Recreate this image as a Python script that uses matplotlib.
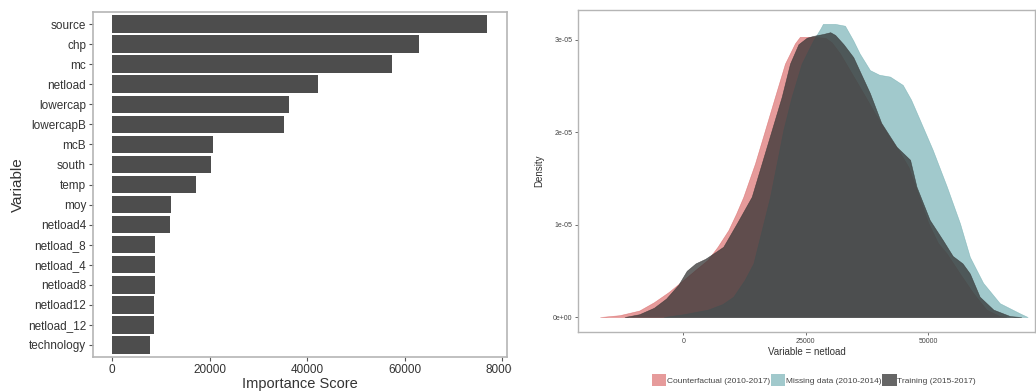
import numpy as np
import matplotlib.pyplot as plt
from matplotlib.patches import Patch
from matplotlib.transforms import Bbox, TransformedBbox

plt.rcParams['font.family'] = ['Liberation Sans', 'DejaVu Sans']

# variable importance (top to bottom)
variables = ['source', 'chp', 'mc', 'netload', 'lowercap', 'lowercapB', 'mcB',
             'south', 'temp', 'moy', 'netload4', 'netload_8', 'netload_4',
             'netload8', 'netload12', 'netload_12', 'technology']
importance = [77000, 63000, 57500, 42300, 36200, 35300, 20800, 20400, 17300,
              12100, 11800, 8800, 8750, 8750, 8700, 8700, 7800]

# netload densities (values in 1e-05)
cf_x = [-17000, -13000, -9000, -6000, -3000, 0, 2700, 5000, 7000, 9200, 10800,
        12250, 14630, 16670, 18700, 20750, 22800, 23800, 26500, 29000, 30300,
        32000, 36000, 39500, 42000, 44000, 46000, 47600, 50000, 52000, 53750,
        56470, 59180, 61900, 64600, 66000]
cf_y = [0.0, 0.02, 0.07, 0.16, 0.27, 0.40, 0.52, 0.62, 0.76, 0.94, 1.12,
        1.30, 1.66, 2.02, 2.38, 2.74, 2.96, 3.03, 3.03, 3.02, 2.97,
        2.85, 2.49, 2.17, 1.95, 1.80, 1.62, 1.38, 1.02, 0.80, 0.69,
        0.47, 0.26, 0.08, 0.01, 0.0]

md_x = [-4000, 0, 5000, 8000, 10200, 12500, 14300, 16000, 17700, 19060, 20400,
        22100, 24150, 26500, 28000, 28500, 31000, 33000, 34700,
        36000, 38100, 40000, 42200, 44800, 46500, 48300, 50900, 53800, 56500,
        58500, 61200, 64600, 68700, 70300]
md_y = [0.0, 0.03, 0.08, 0.14, 0.22, 0.40, 0.58, 0.94, 1.30, 1.66, 2.02,
        2.38, 2.74, 2.99, 3.12, 3.17, 3.17, 3.15, 2.99,
        2.85, 2.67, 2.62, 2.60, 2.51, 2.35, 2.13, 1.81, 1.41, 1.01,
        0.65, 0.37, 0.15, 0.04, 0.0]

tr_x = [-12000, -9000, -6000, -3500, -1000, 700, 2500, 4500, 6500, 8160, 11000,
        13960, 16000, 18040, 20080, 21780, 23500, 25200, 26500, 28500,
        30000, 31000, 32700, 34700, 38100, 40400, 43550, 46300, 47600, 50300,
        53000, 55000, 57000, 58500, 60500, 63300, 66700, 69000]
tr_y = [0.0, 0.03, 0.10, 0.20, 0.35, 0.50, 0.58, 0.63, 0.70, 0.76, 1.02,
        1.30, 1.66, 2.02, 2.38, 2.74, 2.95, 3.02, 3.04, 3.06,
        3.08, 3.05, 2.95, 2.81, 2.42, 2.10, 1.84, 1.70, 1.41, 1.05,
        0.83, 0.66, 0.58, 0.47, 0.22, 0.08, 0.01, 0.0]

series = [
    ('Counterfactual (2010-2017)', cf_x, cf_y, '#d65858', 0.6),
    ('Missing data (2010-2014)', md_x, md_y, '#63a6aa', 0.6),
    ('Training (2015-2017)', tr_x, tr_y, '#333333', 0.75),
]

fig = plt.figure(figsize=(10.36, 3.92), dpi=100)
W, H = 1036, 392

border = '#b5b5b5'
tickc = '#555555'

# ---- importance bars ----
ax1 = fig.add_axes([93 / W, 35 / H, 414 / W, 345 / H])
pos = np.arange(len(variables))
ax1.barh(pos, importance, height=0.87, color='#4d4d4d')
ax1.set_ylim(len(variables) - 0.4, -0.6)
ax1.set_xlim(-3900, 81000)
ax1.set_yticks(pos)
ax1.set_yticklabels(variables, fontsize=8.5, color='#333333')
ax1.set_xticks([0, 20000, 40000, 60000, 80000])
ax1.set_xticklabels(['0', '20000', '40000', '60000', '80000'], fontsize=8.5, color='#333333')
ax1.tick_params(length=3, color=tickc, width=0.8, pad=2)
ax1.set_xlabel('Importance Score', fontsize=10.5, color='#333333', labelpad=1)
ax1.set_ylabel('Variable', fontsize=11, color='#333333', labelpad=2)
for s in ax1.spines.values():
    s.set_color(border)
    s.set_linewidth(1.2)
clip = TransformedBbox(Bbox([[0, 0], [512 / W, 1]]), fig.transFigure)
for lab in ax1.get_xticklabels():
    lab.set_clip_box(clip)
    lab.set_clip_on(True)

# ---- densities ----
ax2 = fig.add_axes([578 / W, 60 / H, 457 / W, 322 / H])
handles = []
for name, xs, ys, col, a in series:
    ax2.fill_between(xs, np.array(ys) * 1e-5, 0, color=col, alpha=a, linewidth=0.4,
                     edgecolor=col)
    handles.append(Patch(facecolor=col, alpha=a, edgecolor='none', label=name))
ax2.set_xlim(-21500, 71800)
ax2.set_ylim(-0.162e-5, 3.32e-5)
ax2.set_xticks([0, 25000, 50000])
ax2.set_xticklabels(['0', '25000', '50000'], fontsize=5, color='#444444')
ax2.set_yticks([0, 1e-5, 2e-5, 3e-5])
ax2.set_yticklabels(['0e+00', '1e-05', '2e-05', '3e-05'], fontsize=5, color='#444444')
ax2.tick_params(length=2, color=tickc, width=0.6, pad=2)
ax2.set_xlabel('Variable = netload', fontsize=7, color='#333333', labelpad=2)
ax2.set_ylabel('Density', fontsize=7, color='#333333', labelpad=6)
for s in ax2.spines.values():
    s.set_color(border)
    s.set_linewidth(1.0)

fig.legend(handles=handles, loc='center', bbox_to_anchor=(814 / W, 12 / H), ncol=3,
           frameon=False, fontsize=6, handlelength=1.7, handleheight=1.7,
           handletextpad=0.1, columnspacing=0.1, labelcolor='#444444')

fig.savefig('out.png', dpi=100, facecolor='white')
